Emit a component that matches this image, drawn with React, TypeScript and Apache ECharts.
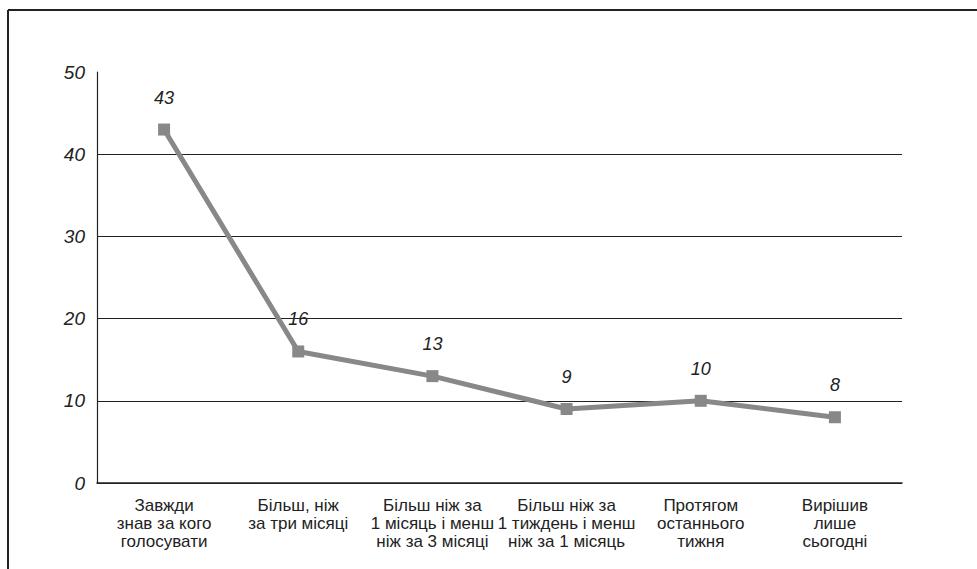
import React, { useEffect, useRef } from "react";
import * as echarts from "echarts";

const categories = [
  "Завжди\nзнав за кого\nголосувати",
  "Більш, ніж\nза три місяці",
  "Більш ніж за\n1 місяць і менш\nніж за 3 місяці",
  "Більш ніж за\n1 тиждень і менш\nніж за 1 місяць",
  "Протягом\nостаннього\nтижня",
  "Вирішив\nлише\nсьогодні",
];
const values = [43, 16, 13, 9, 10, 8];
const yMin = 0;
const yMax = 50;
const yInterval = 10;

const FONT = "Liberation Sans, Arial, sans-serif";

export default function App() {
  const ref = useRef<HTMLDivElement>(null);
  useEffect(() => {
    if (!ref.current) return;
    const chart = echarts.init(ref.current, null, { renderer: "svg" });
    chart.setOption({
      animation: false,
      backgroundColor: "#ffffff",
      textStyle: { fontFamily: FONT },
      graphic: [
        { type: "line", shape: { x1: 8, y1: 10, x2: 977, y2: 10 }, style: { stroke: "#222", lineWidth: 2 } },
        { type: "line", shape: { x1: 8, y1: 10, x2: 8, y2: 569 }, style: { stroke: "#222", lineWidth: 2 } },
      ],
      grid: { left: 97, right: 75, top: 72, bottom: 86 },
      xAxis: {
        type: "category",
        data: categories,
        boundaryGap: true,
        axisLine: { show: true, lineStyle: { color: "#222", width: 1.5 } },
        axisTick: { show: false },
        axisLabel: {
          interval: 0,
          color: "#222",
          fontSize: 17,
          lineHeight: 18,
          margin: 13,
          fontFamily: FONT,
        },
      },
      yAxis: {
        type: "value",
        min: yMin,
        max: yMax,
        interval: yInterval,
        axisLine: { show: true, lineStyle: { color: "#222", width: 1.2 } },
        axisTick: { show: false },
        axisLabel: {
          color: "#222",
          fontSize: 19,
          fontStyle: "italic",
          margin: 12,
          fontFamily: FONT,
        },
        splitLine: {
          show: true,
          lineStyle: {
            color: ["#222", "#222", "#222", "#222", "#222", "rgba(0,0,0,0)"],
            width: 1,
          },
        },
      },
      series: [
        {
          type: "line",
          data: values,
          symbol: "rect",
          symbolSize: 12,
          lineStyle: { color: "#888888", width: 5 },
          itemStyle: { color: "#888888" },
          label: {
            show: true,
            position: "top",
            distance: 17,
            color: "#222",
            fontSize: 18,
            fontStyle: "italic",
            fontFamily: FONT,
          },
        },
      ],
    });
    return () => chart.dispose();
  }, []);
  return (
    <div
      ref={ref}
      style={{ position: "fixed", left: 0, top: 0, width: 977, height: 569 }}
    />
  );
}
